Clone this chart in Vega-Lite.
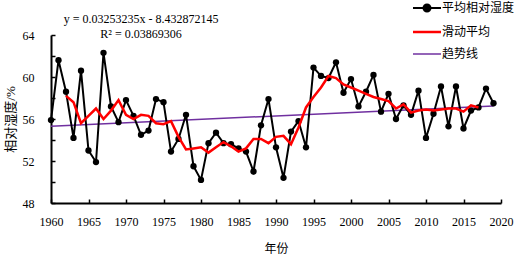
{
  "$schema": "https://vega.github.io/schema/vega-lite/v6.json",
  "width": 450,
  "height": 168,
  "autosize": {"type": "none"},
  "padding": {"left": 51, "top": 35, "right": 13, "bottom": 53},
  "background": "white",
  "title": {
    "text": "y = 0.03253235x - 8.432872145",
    "subtitle": "R² = 0.03869306",
    "anchor": "middle",
    "dx": -135,
    "dy": 35,
    "offset": -4,
    "font": "Liberation Serif",
    "fontSize": 12,
    "fontWeight": "normal",
    "color": "black",
    "subtitleFont": "Liberation Serif",
    "subtitleFontSize": 12,
    "subtitleColor": "black",
    "subtitlePadding": 3
  },
  "datasets": {
    "rh": [
      {"year": 1960, "series": "平均相对湿度", "value": 55.9},
      {"year": 1961, "series": "平均相对湿度", "value": 61.6},
      {"year": 1962, "series": "平均相对湿度", "value": 58.6},
      {"year": 1963, "series": "平均相对湿度", "value": 54.2},
      {"year": 1964, "series": "平均相对湿度", "value": 60.6},
      {"year": 1965, "series": "平均相对湿度", "value": 53.0},
      {"year": 1966, "series": "平均相对湿度", "value": 51.9},
      {"year": 1967, "series": "平均相对湿度", "value": 62.3},
      {"year": 1968, "series": "平均相对湿度", "value": 57.2},
      {"year": 1969, "series": "平均相对湿度", "value": 55.7},
      {"year": 1970, "series": "平均相对湿度", "value": 57.8},
      {"year": 1971, "series": "平均相对湿度", "value": 56.3},
      {"year": 1972, "series": "平均相对湿度", "value": 54.5},
      {"year": 1973, "series": "平均相对湿度", "value": 54.9},
      {"year": 1974, "series": "平均相对湿度", "value": 57.9},
      {"year": 1975, "series": "平均相对湿度", "value": 57.6},
      {"year": 1976, "series": "平均相对湿度", "value": 52.9},
      {"year": 1977, "series": "平均相对湿度", "value": 54.1},
      {"year": 1978, "series": "平均相对湿度", "value": 56.4},
      {"year": 1979, "series": "平均相对湿度", "value": 51.5},
      {"year": 1980, "series": "平均相对湿度", "value": 50.2},
      {"year": 1981, "series": "平均相对湿度", "value": 53.7},
      {"year": 1982, "series": "平均相对湿度", "value": 54.7},
      {"year": 1983, "series": "平均相对湿度", "value": 53.7},
      {"year": 1984, "series": "平均相对湿度", "value": 53.6},
      {"year": 1985, "series": "平均相对湿度", "value": 53.2},
      {"year": 1986, "series": "平均相对湿度", "value": 52.9},
      {"year": 1987, "series": "平均相对湿度", "value": 51.0},
      {"year": 1988, "series": "平均相对湿度", "value": 55.4},
      {"year": 1989, "series": "平均相对湿度", "value": 57.9},
      {"year": 1990, "series": "平均相对湿度", "value": 53.3},
      {"year": 1991, "series": "平均相对湿度", "value": 50.4},
      {"year": 1992, "series": "平均相对湿度", "value": 54.8},
      {"year": 1993, "series": "平均相对湿度", "value": 55.8},
      {"year": 1994, "series": "平均相对湿度", "value": 53.3},
      {"year": 1995, "series": "平均相对湿度", "value": 60.9},
      {"year": 1996, "series": "平均相对湿度", "value": 60.1},
      {"year": 1997, "series": "平均相对湿度", "value": 59.9},
      {"year": 1998, "series": "平均相对湿度", "value": 61.4},
      {"year": 1999, "series": "平均相对湿度", "value": 58.5},
      {"year": 2000, "series": "平均相对湿度", "value": 59.8},
      {"year": 2001, "series": "平均相对湿度", "value": 57.2},
      {"year": 2002, "series": "平均相对湿度", "value": 58.6},
      {"year": 2003, "series": "平均相对湿度", "value": 60.2},
      {"year": 2004, "series": "平均相对湿度", "value": 56.7},
      {"year": 2005, "series": "平均相对湿度", "value": 58.4},
      {"year": 2006, "series": "平均相对湿度", "value": 56.0},
      {"year": 2007, "series": "平均相对湿度", "value": 57.3},
      {"year": 2008, "series": "平均相对湿度", "value": 56.4},
      {"year": 2009, "series": "平均相对湿度", "value": 58.7},
      {"year": 2010, "series": "平均相对湿度", "value": 54.2},
      {"year": 2011, "series": "平均相对湿度", "value": 56.5},
      {"year": 2012, "series": "平均相对湿度", "value": 59.1},
      {"year": 2013, "series": "平均相对湿度", "value": 55.3},
      {"year": 2014, "series": "平均相对湿度", "value": 59.1},
      {"year": 2015, "series": "平均相对湿度", "value": 55.1},
      {"year": 2016, "series": "平均相对湿度", "value": 56.8},
      {"year": 2017, "series": "平均相对湿度", "value": 57.1},
      {"year": 2018, "series": "平均相对湿度", "value": 58.9},
      {"year": 2019, "series": "平均相对湿度", "value": 57.5}
    ],
    "ma": [
      {"year": 1962, "series": "滑动平均", "value": 58.2},
      {"year": 1963, "series": "滑动平均", "value": 57.6},
      {"year": 1964, "series": "滑动平均", "value": 55.6},
      {"year": 1965, "series": "滑动平均", "value": 56.3},
      {"year": 1966, "series": "滑动平均", "value": 57.0},
      {"year": 1967, "series": "滑动平均", "value": 56.0},
      {"year": 1968, "series": "滑动平均", "value": 56.8},
      {"year": 1969, "series": "滑动平均", "value": 57.8},
      {"year": 1970, "series": "滑动平均", "value": 56.4},
      {"year": 1971, "series": "滑动平均", "value": 56.0},
      {"year": 1972, "series": "滑动平均", "value": 56.4},
      {"year": 1973, "series": "滑动平均", "value": 56.3},
      {"year": 1974, "series": "滑动平均", "value": 55.6},
      {"year": 1975, "series": "滑动平均", "value": 55.5},
      {"year": 1976, "series": "滑动平均", "value": 55.8},
      {"year": 1977, "series": "滑动平均", "value": 54.3},
      {"year": 1978, "series": "滑动平均", "value": 53.1},
      {"year": 1979, "series": "滑动平均", "value": 53.2},
      {"year": 1980, "series": "滑动平均", "value": 53.3},
      {"year": 1981, "series": "滑动平均", "value": 52.8},
      {"year": 1982, "series": "滑动平均", "value": 53.3},
      {"year": 1983, "series": "滑动平均", "value": 53.8},
      {"year": 1984, "series": "滑动平均", "value": 53.4},
      {"year": 1985, "series": "滑动平均", "value": 52.9},
      {"year": 1986, "series": "滑动平均", "value": 53.2},
      {"year": 1987, "series": "滑动平均", "value": 54.1},
      {"year": 1988, "series": "滑动平均", "value": 54.1},
      {"year": 1989, "series": "滑动平均", "value": 53.7},
      {"year": 1990, "series": "滑动平均", "value": 54.3},
      {"year": 1991, "series": "滑动平均", "value": 54.4},
      {"year": 1992, "series": "滑动平均", "value": 53.6},
      {"year": 1993, "series": "滑动平均", "value": 55.2},
      {"year": 1994, "series": "滑动平均", "value": 57.1},
      {"year": 1995, "series": "滑动平均", "value": 58.1},
      {"year": 1996, "series": "滑动平均", "value": 59.0},
      {"year": 1997, "series": "滑动平均", "value": 60.1},
      {"year": 1998, "series": "滑动平均", "value": 59.9},
      {"year": 1999, "series": "滑动平均", "value": 59.3},
      {"year": 2000, "series": "滑动平均", "value": 59.0},
      {"year": 2001, "series": "滑动平均", "value": 58.7},
      {"year": 2002, "series": "滑动平均", "value": 58.4},
      {"year": 2003, "series": "滑动平均", "value": 58.1},
      {"year": 2004, "series": "滑动平均", "value": 57.9},
      {"year": 2005, "series": "滑动平均", "value": 57.7},
      {"year": 2006, "series": "滑动平均", "value": 57.0},
      {"year": 2007, "series": "滑动平均", "value": 57.4},
      {"year": 2008, "series": "滑动平均", "value": 56.6},
      {"year": 2009, "series": "滑动平均", "value": 56.8},
      {"year": 2010, "series": "滑动平均", "value": 56.9},
      {"year": 2011, "series": "滑动平均", "value": 56.8},
      {"year": 2012, "series": "滑动平均", "value": 56.9},
      {"year": 2013, "series": "滑动平均", "value": 57.0},
      {"year": 2014, "series": "滑动平均", "value": 57.0},
      {"year": 2015, "series": "滑动平均", "value": 56.7},
      {"year": 2016, "series": "滑动平均", "value": 57.3},
      {"year": 2017, "series": "滑动平均", "value": 57.1}
    ],
    "trend": [
      {"year": 1960, "series": "趋势线", "value": 55.32},
      {"year": 2019, "series": "趋势线", "value": 57.24}
    ]
  },
  "encoding": {
    "x": {
      "field": "year",
      "type": "quantitative",
      "scale": {"domain": [1960, 2020], "nice": false, "zero": false},
      "axis": {
        "title": "年份",
        "values": [1960, 1965, 1970, 1975, 1980, 1985, 1990, 1995, 2000, 2005, 2010, 2015, 2020],
        "format": "d",
        "labelFlush": false,
        "tickSize": -4,
        "labelPadding": 17,
        "titlePadding": 16
      }
    },
    "y": {
      "field": "value",
      "type": "quantitative",
      "scale": {"domain": [48, 64], "nice": false, "zero": false},
      "axis": {
        "title": "相对湿度/%",
        "values": [48, 50, 52, 54, 56, 58, 60, 62, 64],
        "labelExpr": "datum.value % 4 === 0 ? datum.label : ''",
        "labelFlush": false,
        "tickSize": -4,
        "labelPadding": 21,
        "titlePadding": 5,
        "titleFontSize": 13
      }
    },
    "color": {
      "field": "series",
      "type": "nominal",
      "scale": {
        "domain": ["平均相对湿度", "滑动平均", "趋势线"],
        "range": ["#000000", "#FF0000", "#7030A0"]
      },
      "legend": {
        "title": null,
        "orient": "none",
        "legendX": 363,
        "legendY": -33,
        "padding": 0,
        "symbolSize": 196,
        "labelOffset": 16,
        "rowPadding": 10,
        "labelFont": "Liberation Serif, Noto Sans CJK SC",
        "labelFontSize": 12,
        "labelColor": "black",
        "encode": {
          "symbols": {
            "update": {
              "shape": {"signal": "datum.value === '平均相对湿度' ? 'M-1,0H3M1.5,0A0.5,0.5,0,1,1,0.5,0A0.5,0.5,0,1,1,1.5,0' : 'M-1,0H3'"},
              "fill": {"signal": "datum.value === '平均相对湿度' ? 'black' : 'transparent'"},
              "strokeWidth": {"signal": "datum.value === '滑动平均' ? 2.5 : datum.value === '趋势线' ? 1.5 : 2"}
            }
          }
        }
      }
    }
  },
  "layer": [
    {
      "data": {"name": "trend"},
      "mark": {"type": "line", "strokeWidth": 1.5}
    },
    {
      "data": {"name": "rh"},
      "mark": {"type": "line", "strokeWidth": 2}
    },
    {
      "data": {"name": "rh"},
      "mark": {"type": "point", "filled": true, "size": 40, "opacity": 1},
      "encoding": {"color": {"value": "black"}}
    },
    {
      "data": {"name": "ma"},
      "mark": {"type": "line", "strokeWidth": 2.5}
    }
  ],
  "config": {
    "view": {"stroke": null},
    "axis": {
      "grid": false,
      "domainColor": "black",
      "domainWidth": 2,
      "tickColor": "black",
      "tickWidth": 1.5,
      "labelFont": "Liberation Serif",
      "labelFontSize": 12,
      "labelColor": "black",
      "titleFont": "Liberation Serif, Noto Sans CJK SC",
      "titleFontSize": 12,
      "titleFontWeight": "normal",
      "titleColor": "black"
    }
  }
}
